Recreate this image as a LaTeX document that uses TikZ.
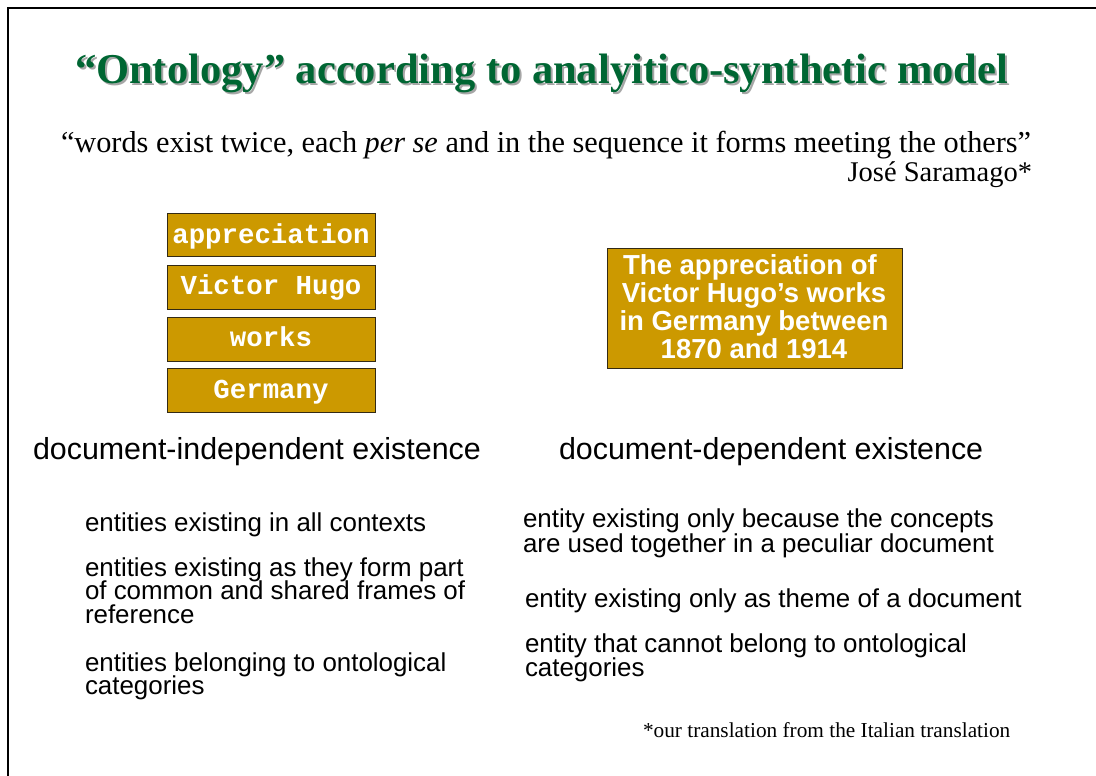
\documentclass[tikz,border=0pt]{standalone}
\usepackage{fontspec}
\setmainfont{Liberation Serif}
\newfontfamily\arialf{Liberation Sans}
\newfontfamily\courf{Liberation Mono}
\definecolor{titlegreen}{RGB}{0,102,51}
\definecolor{gold}{RGB}{204,153,0}
\definecolor{boxedge}{RGB}{51,42,20}
\begin{document}
\begin{tikzpicture}[x=1pt,y=-1pt,
  every node/.style={inner sep=0pt,outer sep=0pt},
  wordbox/.style={draw=boxedge,line width=1pt,fill=gold},
  wordtxt/.style={text=white,font=\courf\bfseries\fontsize{27.4}{27.4}\selectfont,anchor=base},
  headtxt/.style={font=\arialf\fontsize{30.4}{30.4}\selectfont,anchor=base west},
  itemtxt/.style={font=\arialf\fontsize{25.9}{25.9}\selectfont,anchor=base west},
  themetxt/.style={text=white,font=\arialf\bfseries\fontsize{27.5}{27.5}\selectfont,anchor=base}]
\useasboundingbox (0,0) rectangle (1096,776);
\fill[white] (0,0) rectangle (1096,776);
% slide frame
\draw[line width=2pt] (8,777) -- (8,8) -- (1097,8);

% title with soft shadow
\node[anchor=base west,text=black!35,font=\bfseries\fontsize{38}{38}\selectfont] (titleshadow) at (77,85)
  {\resizebox{933pt}{!}{``Ontology'' according to analyitico-synthetic model}};
\node[anchor=base west,text=titlegreen,font=\bfseries\fontsize{38}{38}\selectfont] (title) at (75,83)
  {\resizebox{933pt}{!}{``Ontology'' according to analyitico-synthetic model}};

% quotation
\node[anchor=base west,font=\fontsize{30.3}{30.3}\selectfont] (quote) at (61,152)
  {``words exist twice, each \textit{per se} and in the sequence it forms meeting the others''};
\node[anchor=base east,font=\fontsize{28.5}{28.5}\selectfont] (author) at (1032,181) {José Saramago*};

% separate words
\node[wordbox,minimum width=208pt,minimum height=43pt,anchor=north west] (b1) at (167,213) {};
\node[wordbox,minimum width=208pt,minimum height=44pt,anchor=north west] (b2) at (167,265) {};
\node[wordbox,minimum width=208pt,minimum height=44pt,anchor=north west] (b3) at (167,317) {};
\node[wordbox,minimum width=208pt,minimum height=44pt,anchor=north west] (b4) at (167,368) {};
\node[wordtxt] (w1) at (271,243) {appreciation};
\node[wordtxt] (w2) at (271,294) {Victor Hugo};
\node[wordtxt] (w3) at (271,346) {works};
\node[wordtxt] (w4) at (271,398) {Germany};

% combined theme
\node[wordbox,minimum width=295pt,minimum height=120pt,anchor=north west] (theme) at (607,248) {};
\node[themetxt] (t1) at (750,274) {The appreciation of};
\node[themetxt] (t2) at (754,302) {Victor Hugo’s works};
\node[themetxt] (t3) at (754,330) {in Germany between};
\node[themetxt] (t4) at (754,358) {1870 and 1914};

% column headings
\node[headtxt] (hl) at (33,459) {document-independent existence};
\node[headtxt] (hr) at (559,459) {document-dependent existence};

% left column items
\node[itemtxt] (l1) at (85,531) {entities existing in all contexts};
\node[itemtxt] (l2a) at (85,576) {entities existing as they form part};
\node[itemtxt] (l2b) at (85,599) {of common and shared frames of};
\node[itemtxt] (l2c) at (85,623) {reference};
\node[itemtxt] (l3a) at (85,671) {entities belonging to ontological};
\node[itemtxt] (l3b) at (85,694) {categories};

% right column items
\node[itemtxt] (r1a) at (523,527) {entity existing only because the concepts};
\node[itemtxt] (r1b) at (523,552) {are used together in a peculiar document};
\node[itemtxt] (r2) at (525,607) {entity existing only as theme of a document};
\node[itemtxt] (r3a) at (525,652) {entity that cannot belong to ontological};
\node[itemtxt] (r3b) at (525,676) {categories};

% footnote
\node[anchor=base west,font=\fontsize{21.3}{21.3}\selectfont] (note) at (643,737)
  {*our translation from the Italian translation};
\end{tikzpicture}
\end{document}
